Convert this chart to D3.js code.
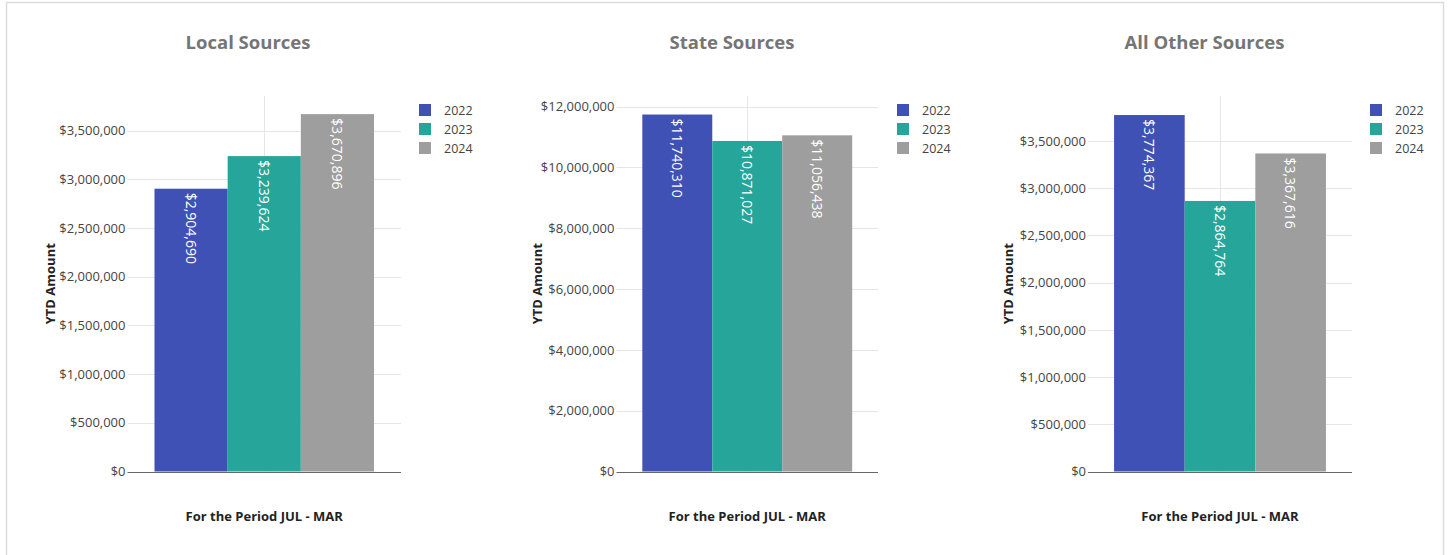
<!DOCTYPE html>
<html>
<head>
<meta charset="utf-8">
<script src="https://cdn.jsdelivr.net/npm/d3@7"></script>
<style>
  html, body { margin: 0; padding: 0; background: #fff; }
  svg { display: block; font-family: "Open Sans", sans-serif; }
</style>
</head>
<body>
<svg id="chart" width="1450" height="555"></svg>
<script>
// ---- data ----
const categories = ["For the Period JUL - MAR"];
const seriesNames = ["2022", "2023", "2024"];
const panelTitles = ["Local Sources", "State Sources", "All Other Sources"];
const localValues = [2904690, 3239624, 3670896];
const stateValues = [11740310, 10871027, 11056438];
const otherValues = [3774367, 2864764, 3367616];
const localTicks = [0, 500000, 1000000, 1500000, 2000000, 2500000, 3000000, 3500000];
const stateTicks = [0, 2000000, 4000000, 6000000, 8000000, 10000000, 12000000];
const otherTicks = [0, 500000, 1000000, 1500000, 2000000, 2500000, 3000000, 3500000];
const yDomainMax = [3857000, 12350000, 3976000];
const yAxisTitle = "YTD Amount";

// ---- styles / layout ----
const colors = ["#3F51B5", "#26A69A", "#9E9E9E"];
const layout = [
  { left: 127.5, right: 401, titleX: 248, yTitleX: 50, legendX: 419 },
  { left: 616.5, right: 878, titleX: 732, yTitleX: 537, legendX: 897 },
  { left: 1088, right: 1352, titleX: 1204.5, yTitleX: 1008, legendX: 1370 }
];
const plotTop = 96, plotBottom = 471.5;

const panels = [
  { title: panelTitles[0], values: localValues, ticks: localTicks, max: yDomainMax[0] },
  { title: panelTitles[1], values: stateValues, ticks: stateTicks, max: yDomainMax[1] },
  { title: panelTitles[2], values: otherValues, ticks: otherTicks, max: yDomainMax[2] }
];

const svg = d3.select("#chart");
// outer border
svg.append("rect").attr("x", 6.5).attr("y", 2.5).attr("width", 1437).attr("height", 600)
  .attr("fill", "none").attr("stroke", "#dcdcdc").attr("stroke-width", 1.5);

const money = d => "$" + d3.format(",")(d);

panels.forEach((p, i) => {
  const L = layout[i];
  const g = svg.append("g");
  const y = d3.scaleLinear().domain([0, p.max]).range([plotBottom, plotTop]);
  const x0 = d3.scaleBand().domain(categories).range([L.left, L.right]).paddingOuter(0.123).paddingInner(0);
  const x1 = d3.scaleBand().domain(seriesNames).range([0, x0.bandwidth()]).padding(0);

  // horizontal gridlines
  g.selectAll(".grid").data(p.ticks.filter(t => t > 0)).join("line")
    .attr("x1", L.left).attr("x2", L.right)
    .attr("y1", d => Math.round(y(d)) + 0.5).attr("y2", d => Math.round(y(d)) + 0.5)
    .attr("stroke", "#e6e6e6").attr("stroke-width", 1);
  // vertical category gridline
  categories.forEach(c => {
    const cx = Math.round(x0(c) + x0.bandwidth() / 2) + 0.5;
    g.append("line").attr("x1", cx).attr("x2", cx).attr("y1", plotTop).attr("y2", plotBottom)
      .attr("stroke", "#e6e6e6").attr("stroke-width", 1);
  });

  // y axis labels via d3 axis
  const yAxis = d3.axisLeft(y).tickValues(p.ticks).tickFormat(money).tickSize(0).tickPadding(2);
  const ax = g.append("g").attr("transform", `translate(${L.left},0)`).call(yAxis);
  ax.select(".domain").remove();
  ax.selectAll("text").attr("font-size", 13).attr("fill", "#444").attr("font-family", "Open Sans");

  // bars
  const bars = g.append("g");
  categories.forEach(c => {
    seriesNames.forEach((s, k) => {
      const v = p.values[k];
      const bx = x0(c) + x1(s);
      bars.append("rect")
        .attr("x", bx).attr("y", y(v))
        .attr("width", x1.bandwidth()).attr("height", y(0) - y(v))
        .attr("fill", colors[k]);
      const cx = bx + x1.bandwidth() / 2;
      const ty = y(v) + 4;
      bars.append("text")
        .attr("transform", `translate(${cx},${ty}) rotate(90)`)
        .attr("dominant-baseline", "central")
        .attr("text-anchor", "start")
        .attr("font-size", 14).attr("fill", "#fff")
        .text(money(v));
    });
  });

  // baseline
  g.append("line").attr("x1", L.left).attr("x2", L.right)
    .attr("y1", Math.round(y(0)) + 0.5).attr("y2", Math.round(y(0)) + 0.5)
    .attr("stroke", "#666").attr("stroke-width", 1);

  // x axis title (category)
  categories.forEach(c => {
    g.append("text").attr("x", x0(c) + x0.bandwidth() / 2).attr("y", 520.5)
      .attr("text-anchor", "middle").attr("font-size", 13).attr("font-weight", "bold")
      .attr("fill", "#222").text(c);
  });

  // y axis title
  g.append("text").attr("transform", `translate(${L.yTitleX},${(plotTop + plotBottom) / 2}) rotate(-90)`)
    .attr("text-anchor", "middle").attr("dominant-baseline", "central")
    .attr("font-size", 13).attr("font-weight", "bold").attr("fill", "#222").text(yAxisTitle);

  // title
  g.append("text").attr("x", L.titleX).attr("y", 49).attr("text-anchor", "middle")
    .attr("font-size", 18.5).attr("font-weight", "bold").attr("fill", "#757575").text(p.title);

  // legend
  const leg = g.append("g");
  seriesNames.forEach((s, k) => {
    const ly = 110 + k * 19;
    leg.append("rect").attr("x", L.legendX).attr("y", ly - 6).attr("width", 12).attr("height", 12)
      .attr("fill", colors[k]);
    leg.append("text").attr("x", L.legendX + 25).attr("y", ly).attr("dominant-baseline", "central")
      .attr("font-size", 12.5).attr("fill", "#444").text(s);
  });
});
</script>
</body>
</html>
